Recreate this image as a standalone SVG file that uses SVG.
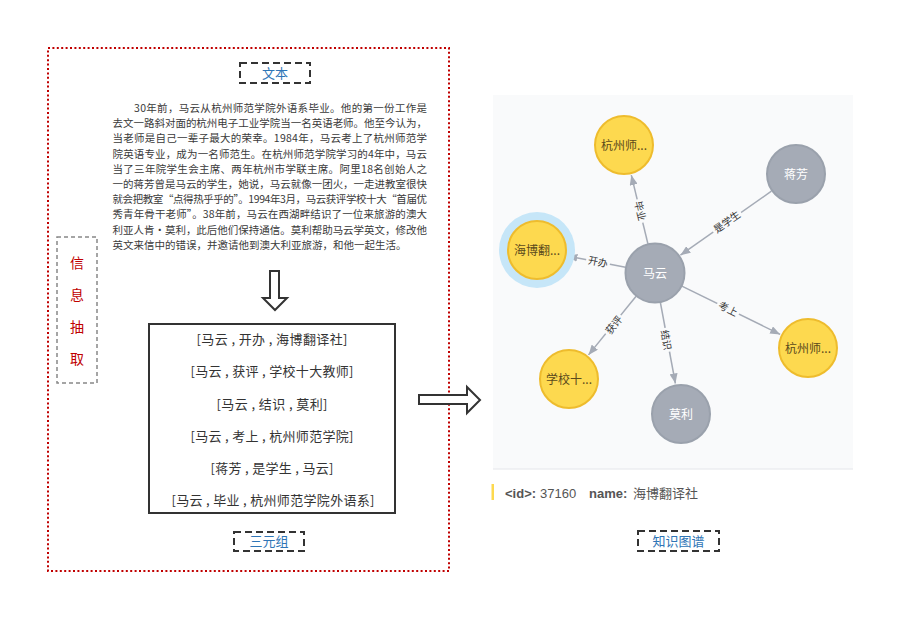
<svg xmlns="http://www.w3.org/2000/svg" width="916" height="633" viewBox="0 0 916 633">
<style>
.cjk{font-family:"Noto Sans CJK SC","Noto Sans",sans-serif}
.para{font-size:10.5px;fill:#3a3a3a}
.triple{font-size:13px;fill:#333;text-anchor:middle}
.title{font-size:13px;fill:#2e75b6;text-anchor:middle}
.tbox{fill:#fff;stroke:#333;stroke-width:2;stroke-dasharray:7,4}
.hollow{fill:#fff;stroke:#333;stroke-width:2;stroke-linejoin:miter}
.edge{stroke:#a5abb6;stroke-width:1.5;fill:none}
.elab{font-size:10px;fill:#333;text-anchor:middle}
.ebg{fill:#f9fafb}
.ny{fill:#fdd94f;stroke:#eebc2d;stroke-width:2}
.ng{fill:#a5abb6;stroke:#9aa1ac;stroke-width:2}
.ty{font-size:12px;fill:#5b4a1c;text-anchor:middle}
.tg{font-size:12px;fill:#fff;text-anchor:middle}
</style>
<defs>
<marker id="arr" markerUnits="userSpaceOnUse" markerWidth="10" markerHeight="8" refX="10" refY="4" orient="auto">
<path d="M0,0 L10,4 L0,8 z" fill="#a5abb6"/>
</marker>
</defs>
<rect width="916" height="633" fill="#fff"/>

<g id="left-frame">
<rect x="48" y="48" width="401" height="523" fill="none" stroke="#c00000" stroke-width="2" stroke-dasharray="2,2.4"/>
</g>

<g id="label-text">
<rect class="tbox" x="240" y="63" width="70" height="20"/>
<text class="cjk title" x="275" y="77.5">文本</text>
</g>

<g id="paragraph" class="cjk para">
<text x="134" y="112" textLength="293" lengthAdjust="spacing">30年前，马云从杭州师范学院外语系毕业。他的第一份工作是</text>
<text x="112.5" y="127.2" textLength="314.5" lengthAdjust="spacing">去文一路斜对面的杭州电子工业学院当一名英语老师。他至今认为，</text>
<text x="112.5" y="142.4" textLength="314.5" lengthAdjust="spacing">当老师是自己一辈子最大的荣幸。1984年，马云考上了杭州师范学</text>
<text x="112.5" y="157.6" textLength="314.5" lengthAdjust="spacing">院英语专业，成为一名师范生。在杭州师范学院学习的4年中，马云</text>
<text x="112.5" y="172.8" textLength="314.5" lengthAdjust="spacing">当了三年院学生会主席、两年杭州市学联主席。阿里18名创始人之</text>
<text x="112.5" y="188" textLength="314.5" lengthAdjust="spacing">一的蒋芳曾是马云的学生，她说，马云就像一团火，一走进教室很快</text>
<text x="112.5" y="203.2" textLength="314.5" lengthAdjust="spacing">就会把教室“点得热乎乎的”。1994年3月，马云获评学校十大“首届优</text>
<text x="112.5" y="218.4" textLength="314.5" lengthAdjust="spacing">秀青年骨干老师”。38年前，马云在西湖畔结识了一位来旅游的澳大</text>
<text x="112.5" y="233.6" textLength="314.5" lengthAdjust="spacing">利亚人肯·莫利，此后他们保持通信。莫利帮助马云学英文，修改他</text>
<text x="112.5" y="248.8">英文来信中的错误，并邀请他到澳大利亚旅游，和他一起生活。</text>
</g>

<g id="label-extract">
<rect x="57" y="237" width="40" height="146" fill="#fff" stroke="#888" stroke-width="1.5" stroke-dasharray="4,3"/>
<g class="cjk" font-size="14" fill="#c00000" text-anchor="middle">
<text x="77" y="268">信</text>
<text x="77" y="300">息</text>
<text x="77" y="332">抽</text>
<text x="77" y="364">取</text>
</g>
</g>

<g id="down-arrow">
<polygon class="hollow" points="270,271 279,271 279,298 287,298 275,310 263,298 270,298"/>
</g>

<g id="triples">
<rect x="149" y="324" width="246" height="189" fill="#fff" stroke="#333" stroke-width="2"/>
<g class="cjk triple">
<text x="272" y="344" textLength="151" lengthAdjust="spacing">[马云 , 开办 , 海博翻译社]</text>
<text x="272" y="376" textLength="163" lengthAdjust="spacing">[马云 , 获评 , 学校十大教师]</text>
<text x="272" y="409" textLength="111" lengthAdjust="spacing">[马云 , 结识 , 莫利]</text>
<text x="272" y="441" textLength="163" lengthAdjust="spacing">[马云 , 考上 , 杭州师范学院]</text>
<text x="272" y="473" textLength="123" lengthAdjust="spacing">[蒋芳 , 是学生 , 马云]</text>
<text x="273" y="505" textLength="203" lengthAdjust="spacing">[马云 , 毕业 , 杭州师范学院外语系]</text>
</g>
</g>

<g id="label-triples">
<rect class="tbox" x="234" y="532" width="70" height="19"/>
<text class="cjk title" x="269" y="546">三元组</text>
</g>

<g id="right-arrow">
<polygon class="hollow" points="419,395 467,395 467,387 480,400 467,413 467,404 419,404"/>
</g>

<g id="graph-panel">
<rect x="493" y="95" width="360" height="374" fill="#f9fafb"/>
<line x1="493" y1="469" x2="853" y2="469" stroke="#e4e6ea" stroke-width="1"/>
</g>

<g id="connectors">
<line class="edge" x1="647.9" y1="243.8" x2="631.3" y2="175.1" marker-end="url(#arr)"/>
<line class="edge" x1="625.5" y1="267.3" x2="567.4" y2="255.9" marker-end="url(#arr)"/>
<line class="edge" x1="771.4" y1="191.2" x2="680.4" y2="255.2" marker-end="url(#arr)"/>
<line class="edge" x1="681.9" y1="286.2" x2="780.2" y2="334.4" marker-end="url(#arr)"/>
<line class="edge" x1="636.1" y1="296.3" x2="588.5" y2="354.9" marker-end="url(#arr)"/>
<line class="edge" x1="660.4" y1="302.5" x2="675.4" y2="383.5" marker-end="url(#arr)"/>
<g class="cjk elab">
<g transform="translate(640,211) rotate(76.4)"><rect class="ebg" x="-12" y="-6" width="24" height="12"/><text y="3.5">毕业</text></g>
<g transform="translate(598,262) rotate(11)"><rect class="ebg" x="-12" y="-6" width="24" height="12"/><text y="3.5">开办</text></g>
<g transform="translate(727,222) rotate(-35.1)"><rect class="ebg" x="-17" y="-6" width="34" height="12"/><text y="3.5">是学生</text></g>
<g transform="translate(728,309) rotate(26.1)"><rect class="ebg" x="-12" y="-6" width="24" height="12"/><text y="3.5">考上</text></g>
<g transform="translate(614,325) rotate(-51)"><rect class="ebg" x="-12" y="-6" width="24" height="12"/><text y="3.5">获评</text></g>
<g transform="translate(666,340) rotate(79.6)"><rect class="ebg" x="-12" y="-6" width="24" height="12"/><text y="3.5">结识</text></g>
</g>
</g>

<g id="node-hz1"><circle class="ny" cx="624" cy="145" r="29"/><text class="cjk ty" x="624" y="149.5">杭州师...</text></g>
<g id="node-jf"><circle class="ng" cx="796" cy="174" r="29"/><text class="cjk tg" x="796" y="178.5">蒋芳</text></g>
<g id="node-hb"><circle cx="537" cy="250" r="38" fill="#c6e6f8"/><circle class="ny" cx="537" cy="250" r="29"/><text class="cjk ty" x="537" y="254.5">海博翻...</text></g>
<g id="node-my"><circle class="ng" cx="655" cy="273" r="29.5"/><text class="cjk tg" x="655" y="277.5">马云</text></g>
<g id="node-hz2"><circle class="ny" cx="808" cy="348" r="29"/><text class="cjk ty" x="808" y="352.5">杭州师...</text></g>
<g id="node-xx"><circle class="ny" cx="569" cy="379" r="29"/><text class="cjk ty" x="569" y="383.5">学校十...</text></g>
<g id="node-ml"><circle class="ng" cx="681" cy="414" r="29"/><text class="cjk tg" x="681" y="418.5">莫利</text></g>

<g id="info-row">
<rect x="491.5" y="484" width="2.5" height="16" fill="#fdd94f"/>
<text font-family="'Liberation Sans','Noto Sans CJK SC',sans-serif" font-size="13" fill="#555" y="497.5"><tspan x="505" font-weight="bold">&lt;id&gt;:</tspan><tspan x="540">37160</tspan><tspan x="589" font-weight="bold">name:</tspan><tspan x="633" font-family="'Noto Sans CJK SC',sans-serif">海博翻译社</tspan></text>
</g>

<g id="label-kg">
<rect class="tbox" x="638" y="531" width="81" height="20"/>
<text class="cjk title" x="678.5" y="545.5">知识图谱</text>
</g>
</svg>
